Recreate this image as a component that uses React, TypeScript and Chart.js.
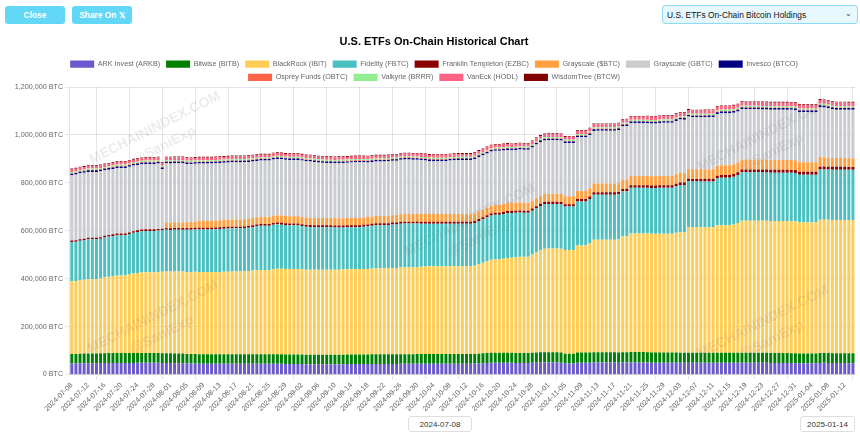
import React, { useEffect, useRef } from "react";
import { Chart, registerables } from "chart.js";

Chart.register(...registerables);

const FONT = '"Liberation Sans", Arial, Helvetica, sans-serif';
const CANVAS_TOP = 28;
const CANVAS_W = 860;
const CANVAS_H = 390;

const DATES = [
  "2024-07-08","2024-07-09","2024-07-10","2024-07-11","2024-07-12","2024-07-13","2024-07-14",
  "2024-07-15","2024-07-16","2024-07-17","2024-07-18","2024-07-19","2024-07-20","2024-07-21",
  "2024-07-22","2024-07-23","2024-07-24","2024-07-25","2024-07-26","2024-07-27","2024-07-28",
  "2024-07-29","2024-07-30","2024-07-31","2024-08-01","2024-08-02","2024-08-03","2024-08-04",
  "2024-08-05","2024-08-06","2024-08-07","2024-08-08","2024-08-09","2024-08-10","2024-08-11",
  "2024-08-12","2024-08-13","2024-08-14","2024-08-15","2024-08-16","2024-08-17","2024-08-18",
  "2024-08-19","2024-08-20","2024-08-21","2024-08-22","2024-08-23","2024-08-24","2024-08-25",
  "2024-08-26","2024-08-27","2024-08-28","2024-08-29","2024-08-30","2024-08-31","2024-09-01",
  "2024-09-02","2024-09-03","2024-09-04","2024-09-05","2024-09-06","2024-09-07","2024-09-08",
  "2024-09-09","2024-09-10","2024-09-11","2024-09-12","2024-09-13","2024-09-14","2024-09-15",
  "2024-09-16","2024-09-17","2024-09-18","2024-09-19","2024-09-20","2024-09-21","2024-09-22",
  "2024-09-23","2024-09-24","2024-09-25","2024-09-26","2024-09-27","2024-09-28","2024-09-29",
  "2024-09-30","2024-10-01","2024-10-02","2024-10-03","2024-10-04","2024-10-05","2024-10-06",
  "2024-10-07","2024-10-08","2024-10-09","2024-10-10","2024-10-11","2024-10-12","2024-10-13",
  "2024-10-14","2024-10-15","2024-10-16","2024-10-17","2024-10-18","2024-10-19","2024-10-20",
  "2024-10-21","2024-10-22","2024-10-23","2024-10-24","2024-10-25","2024-10-26","2024-10-27",
  "2024-10-28","2024-10-29","2024-10-30","2024-10-31","2024-11-01","2024-11-02","2024-11-03",
  "2024-11-04","2024-11-05","2024-11-06","2024-11-07","2024-11-08","2024-11-09","2024-11-10",
  "2024-11-11","2024-11-12","2024-11-13","2024-11-14","2024-11-15","2024-11-16","2024-11-17",
  "2024-11-18","2024-11-19","2024-11-20","2024-11-21","2024-11-22","2024-11-23","2024-11-24",
  "2024-11-25","2024-11-26","2024-11-27","2024-11-28","2024-11-29","2024-11-30","2024-12-01",
  "2024-12-02","2024-12-03","2024-12-04","2024-12-05","2024-12-06","2024-12-07","2024-12-08",
  "2024-12-09","2024-12-10","2024-12-11","2024-12-12","2024-12-13","2024-12-14","2024-12-15",
  "2024-12-16","2024-12-17","2024-12-18","2024-12-19","2024-12-20","2024-12-21","2024-12-22",
  "2024-12-23","2024-12-24","2024-12-25","2024-12-26","2024-12-27","2024-12-28","2024-12-29",
  "2024-12-30","2024-12-31","2025-01-01","2025-01-02","2025-01-03","2025-01-04","2025-01-05",
  "2025-01-06","2025-01-07","2025-01-08","2025-01-09","2025-01-10","2025-01-11","2025-01-12",
  "2025-01-13","2025-01-14",
];

// Holdings in thousands of BTC, one value per day (weekly rows, Mon..Sun)
const ARKB = [
  46,46,46.5,47,47,47,47, 47.5,48,48,48,48,48,48, 48,48,48.5,48.5,48.5,48.5,48.5,
  48.5,48,48,47.5,47,47,47, 46,45.5,45.5,45,45,45,45, 45,44.5,44.5,44.5,44.5,44.5,44.5,
  44.5,44.5,44.5,44.5,44.5,44.5,44.5, 45,45,44.5,44,44,44,44, 43.5,43,43,43,43,43,43,
  43,43,43,43,43.5,43.5,43.5, 43.5,43.5,44,44,44,44,44, 44,44,44,44.5,44.5,44.5,44.5,
  45,45,45,45,45,45,45, 45,45,45,45,45,45,45, 45.5,46,47,48,48.5,48.5,48.5,
  49,49,48.5,48,48,48,48, 48.5,49,50,50,50,50,50, 49,46,46,46,49,49,49,
  49.5,50,50,50,50,50,50, 49.5,50,50,50.5,50.5,50.5,50.5, 50,49.5,49.5,49.5,49.5,49.5,49.5,
  49,49,49,48.5,48.5,48.5,48.5, 48.5,48.5,48.5,48.5,48.5,48.5,48.5, 48.5,48.5,49,49,49,49,49,
  48.5,48.5,48,48,48,48,48, 47.5,47,46.5,46.5,46.5,46.5,46.5, 48,48.5,48,47.5,47.5,47.5,47.5,
  47,47,
];
const BITB = [
  40,40,40.5,40.5,41,41,41, 41,41,41.5,41.5,41.5,41.5,41.5, 41.5,41.5,41.5,41.5,41.5,41.5,41.5,
  41.5,41,41,41,40.5,40.5,40.5, 40,40,40,39.5,39.5,39.5,39.5, 39.5,39.5,39.5,39.5,39.5,39.5,39.5,
  39.5,39.5,39.5,39.5,40,40,40, 40,40,40,39.5,39.5,39.5,39.5, 39.5,39,39,39,39,39,39,
  39,39,39,39,39.5,39.5,39.5, 39.5,39.5,39.5,40,40,40,40, 40,40,40,40.5,40.5,40.5,40.5,
  40.5,40.5,40.5,40.5,40.5,40.5,40.5, 40.5,40.5,40.5,40.5,40.5,40.5,40.5, 40.5,41,41.5,42,42,42,42,
  42,42,42,42,42,42,42, 42,42.5,42.5,42.5,42.5,42.5,42.5, 42.5,41,41,41,42.5,42.5,42.5,
  42.5,42.5,42.5,42.5,42.5,42.5,42.5, 42.5,42.5,43,43,43,43,43, 43,42.5,42.5,42.5,42.5,42.5,42.5,
  42.5,42,42,42,42,42,42, 42,42,42,42,42,42,42, 42,42,42,42,42,42,42,
  42,42,41.5,41.5,41.5,41.5,41.5, 41.5,41.5,41.5,41.5,41.5,41.5,41.5, 41.5,41.5,41.5,41.5,41.5,41.5,41.5,
  41.5,41.5,
];
const IBIT = [
  303,304,306,308,310,310,310, 312,317,319,322,324,324,324, 328,332,334,336,337,337,337,
  338,340,341,341,342,342,342, 342,342,343,343,343,343,343, 343,344,345,345,346,346,346,
  347,348,350,352,352,352,352, 354,356,357,357,357,357,357, 356,355,355,355,355,355,355,
  355,355,355,356,356,356,356, 356,357,357,358,359,359,359, 360,361,361,362,363,363,363,
  363,364,365,366,366,366,366, 366,367,367,367,367,367,367, 368,374,378,383,388,390,390,
  392,395,397,399,401,401,401, 410,418,426,432,433,433,433, 433,433,433,433,447,447,447,
  455,470,470,470,470,470,470, 472,484,484,495,495,495,495, 495,495,495,495,495,495,495,
  500,504,504,525,525,525,525, 525,525,525,532,532,532,532, 536,542,551,551,551,551,551,
  551,551,551,551,551,551,551, 551,551,546,546,546,546,546, 556,556,556,556,556,556,556,
  556,556,
];
const FBTC = [
  164,164,165,165,166,166,166, 166,166,167,167,168,168,168, 169,170,171,172,172,172,172,
  173,173,174,174,175,175,175, 176,177,177,178,178,178,178, 179,179,179,180,180,180,180,
  180,181,182,183,184,184,184, 186,186,184,183,182,182,182, 181,180,179,178,178,178,178,
  178,177,177,176,176,176,176, 176,177,178,179,180,180,180, 180,181,181,182,182,182,182,
  182,180,179,178,178,178,178, 178,177,177,177,177,177,177, 178,180,181,183,185,186,186,
  187,188,187,186,185,184,184, 183,184,185,186,186,186,186, 186,181,181,181,184,184,184,
  186,188,188,188,188,188,188, 188,188,188,191,191,191,191, 191,191,191,192,192,192,192,
  194,196,196,191,190,190,190, 190,190,190,196,199,199,199, 199,200,202,202,202,202,202,
  202,202,202,202,202,202,202, 202,202,200,200,200,200,200, 210,210,210,210,210,210,210,
  210,210,
];
const EZBC = [
  6.4,6.4,6.5,6.5,6.5,6.5,6.5, 6.5,6.6,6.6,6.6,6.7,6.7,6.7, 6.7,6.8,6.8,6.8,6.8,6.8,6.8,
  6.8,6.8,6.9,6.9,6.9,6.9,6.9, 7,7,7,7.1,7.1,7.1,7.1, 7.1,7.2,7.2,7.2,7.2,7.2,7.2,
  7.2,7.3,7.3,7.3,7.3,7.3,7.3, 7.3,7.4,7.4,7.4,7.4,7.4,7.4, 7.4,7.4,7.5,7.5,7.5,7.5,7.5,
  7.5,7.5,7.6,7.6,7.6,7.6,7.6, 7.6,7.7,7.7,7.7,7.8,7.8,7.8, 7.8,7.9,7.9,8,8,8,8,
  8,8,8.1,8.1,8.1,8.1,8.1, 8.1,8.1,8.2,8.2,8.2,8.2,8.2, 8.2,8.3,8.4,8.5,8.6,8.6,8.6,
  8.7,8.8,8.8,8.9,8.9,8.9,8.9, 9,9.1,9.2,9.3,9.3,9.3,9.3, 9.3,9.3,9.4,9.5,9.6,9.6,9.6,
  9.7,9.8,9.9,10,10,10,10, 10.1,10.2,10.3,10.4,10.4,10.4,10.4, 10.5,10.5,10.6,10.6,10.6,10.6,10.6,
  10.7,10.8,10.9,11,11,11,11, 11.1,11.1,11.2,11.3,11.4,11.4,11.4, 11.5,11.6,11.7,11.7,11.7,11.7,11.7,
  11.7,11.8,11.8,11.8,11.8,11.8,11.8, 11.8,11.8,11.8,11.8,11.8,11.8,11.8, 11.9,11.9,12,12,12,12,12,
  12,12,
];
const GRAYSCALE_MINI = [
  0,0,0,0,0,0,0, 0,0,0,0,0,0,0, 0,0,0,0,0,0,0,
  0,0,24.5,24.5,24.5,24.5,24.5, 24.5,24.6,24.8,29,29,29,29, 29.2,29.4,29.5,29.5,29.6,29.6,29.6,
  29.8,30,30,30.1,30.1,30.1,30.1, 30.2,30.3,30.3,30.4,30.4,30.4,30.4, 30.4,30.4,30.5,30.5,30.5,30.5,30.5,
  30.6,30.6,30.7,30.7,30.8,30.8,30.8, 30.8,30.8,30.9,31,31,31,31, 31,31.2,31.4,31.6,31.8,31.8,31.8,
  32,32,32,32,32,32,32, 32,31.8,31.8,31.8,31.8,31.8,31.8, 31.8,31.9,32,32.2,32.4,32.4,32.4,
  32.5,32.6,32.6,32.7,32.8,32.8,32.8, 33,33.1,33.2,33.4,33.5,33.5,33.5, 33.6,33.6,33.6,33.6,34,34,34,
  35,36.5,37,37,37,37,37, 37.5,38.5,39,39,39,39,39, 39,39,39,39,39,39,39,
  39.2,39.4,39.6,40,40,40,40, 40,40.2,40.4,40.8,41,41,41, 41,41,41,41,41,41,41,
  41,41,41,41,41,41,41, 41,41,40.5,40.5,40.5,40.5,40.5, 40,39,38,37,36.5,36.5,36.5,
  36.5,36.5,
];
const GBTC = [
  272,274,275,275,275,275,275, 275,274,273,273,274,274,274, 274,274,273,273,273,273,273,
  273,249,246,246,246,246,246, 243,242,242,239,239,239,239, 239,239,239,239,239,239,239,
  238,237,236,235,235,235,235, 235,235,235,235,235,235,235, 235,235,235,234,232,231,230,
  230,230,230,230,230,231,232, 232,230,228,227,227,227,227, 227,227,227,228,228,228,227,
  226,225,224,222,221,221,221, 221,224,225,226,226,226,226, 227,227,227,226,226,226,226,
  224,222,220,220,221,221,221, 222,224,224,223,223,223,223, 223,222,222,222,224,224,224,
  222,220,220,220,220,220,220, 221,223,223,220,220,220,220, 220,220,220,221,222,222,222,
  223,223,222,219,217,217,217, 217,217,217,217,217,217,217, 215,213,211,210,210,210,210,
  210,210,210,210,210,210,210, 210,209,209,209,209,209,209, 209,208,206,203,202,202,202,
  202,202,
];
const BTCO = [
  6.5,6.5,6.5,6.5,6.5,6.5,6.5, 6.5,6.4,6.4,6.4,6.4,6.4,6.4, 6.4,6.4,6.4,6.4,6.4,6.4,6.4,
  6.4,6.3,6.3,6.3,6.3,6.3,6.3, 6.2,6.2,6.2,6.2,6.2,6.2,6.2, 6.2,6.2,6.2,6.2,6.2,6.2,6.2,
  6.1,6.1,6.1,6.1,6.1,6.1,6.1, 6.1,6.1,6.1,6.1,6.1,6.1,6.1, 6,6,6,6,6,6,6,
  6,6,6,6,6,6,6, 6,6,6,6,6,6,6, 6,6,6,6,6,6,6,
  6,6,6,6,6,6,6, 6,6,6,6,6,6,6, 6.1,6.1,6.1,6.1,6.1,6.1,6.1,
  6.2,6.2,6.2,6.2,6.2,6.2,6.2, 6.3,6.3,6.3,6.3,6.3,6.3,6.3, 6.3,6.3,6.3,6.3,6.3,6.3,6.3,
  6.5,6.5,6.5,6.5,6.5,6.5,6.5, 6.6,6.6,6.6,6.6,6.6,6.6,6.6, 6.6,6.6,6.6,6.6,6.6,6.6,6.6,
  6.7,6.7,6.7,6.7,6.7,6.7,6.7, 6.8,6.8,6.8,6.8,6.8,6.8,6.8, 6.9,6.9,6.9,6.9,6.9,6.9,6.9,
  6.9,6.9,6.9,6.9,6.9,6.9,6.9, 6.9,6.9,6.9,6.9,6.9,6.9,6.9, 7,7,7,7,7,7,7,
  7,7,
];
const OBTC = [
  2.5,2.5,2.5,2.5,2.5,2.5,2.5, 2.5,2.5,2.5,2.5,2.5,2.5,2.5, 2.5,2.5,2.5,2.5,2.5,2.5,2.5,
  2.5,2.5,2.5,2.5,2.5,2.5,2.5, 2.5,2.5,2.5,2.5,2.5,2.5,2.5, 2.5,2.5,2.5,2.5,2.5,2.5,2.5,
  2.5,2.5,2.5,2.5,2.5,2.5,2.5, 2.5,2.5,2.5,2.5,2.5,2.5,2.5, 2.5,2.5,2.5,2.5,2.5,2.5,2.5,
  2.5,2.5,2.5,2.5,2.5,2.5,2.5, 2.5,2.5,2.5,2.5,2.5,2.5,2.5, 2.5,2.5,2.5,2.5,2.5,2.5,2.5,
  2.5,2.5,2.5,2.5,2.5,2.5,2.5, 2.5,2.5,2.5,2.5,2.5,2.5,2.5, 2.4,2.4,2.4,2.4,2.4,2.4,2.4,
  2.4,2.4,2.4,2.4,2.4,2.4,2.4, 2.4,2.4,2.4,2.4,2.4,2.4,2.4, 2.4,2.4,2.4,2.4,2.4,2.4,2.4,
  2.4,2.4,2.4,2.4,2.4,2.4,2.4, 2.4,2.4,2.4,2.4,2.4,2.4,2.4, 2.4,2.4,2.4,2.4,2.4,2.4,2.4,
  2.4,2.4,2.4,2.4,2.4,2.4,2.4, 2.4,2.4,2.4,2.4,2.4,2.4,2.4, 2.4,2.4,2.4,2.4,2.4,2.4,2.4,
  2.4,2.4,2.4,2.4,2.4,2.4,2.4, 2.4,2.4,2.4,2.4,2.4,2.4,2.4, 2.4,2.4,2.4,2.4,2.4,2.4,2.4,
  2.4,2.4,
];
const BRRR = [
  5.1,5.1,5.1,5.1,5.1,5.1,5.1, 5.1,5.1,5.1,5.1,5.1,5.1,5.1, 5.1,5.1,5.1,5.1,5.1,5.1,5.1,
  5.1,5.1,5.1,5.1,5.1,5.1,5.1, 5.1,5.1,5.1,5.1,5.1,5.1,5.1, 5.1,5.1,5.1,5.1,5.1,5.1,5.1,
  5.1,5.1,5.1,5.1,5.1,5.1,5.1, 5.1,5.1,5.1,5.1,5.1,5.1,5.1, 5.2,5.2,5.2,5.2,5.2,5.2,5.2,
  5.2,5.2,5.2,5.2,5.2,5.2,5.2, 5.2,5.2,5.2,5.2,5.2,5.2,5.2, 5.2,5.2,5.2,5.2,5.2,5.2,5.2,
  5.2,5.2,5.2,5.2,5.2,5.2,5.2, 5.2,5.2,5.2,5.2,5.2,5.2,5.2, 5.2,5.2,5.2,5.2,5.2,5.2,5.2,
  5.2,5.2,5.2,5.2,5.2,5.2,5.2, 5.4,5.4,5.4,5.4,5.4,5.4,5.4, 5.4,5.4,5.4,5.4,5.4,5.4,5.4,
  5.4,5.4,5.4,5.4,5.4,5.4,5.4, 5.4,5.4,5.4,5.4,5.4,5.4,5.4, 5.6,5.6,5.6,5.6,5.6,5.6,5.6,
  5.6,5.6,5.6,5.6,5.6,5.6,5.6, 5.6,5.6,5.6,5.6,5.6,5.6,5.6, 5.6,5.6,5.6,5.6,5.6,5.6,5.6,
  5.6,5.6,5.6,5.6,5.6,5.6,5.6, 5.6,5.6,5.6,5.6,5.6,5.6,5.6, 5.6,5.6,5.6,5.6,5.6,5.6,5.6,
  5.6,5.6,
];
const HODL = [
  10.5,10.5,10.5,10.5,10.5,10.5,10.5, 10.5,10.5,10.5,10.5,10.5,10.5,10.5, 10.5,10.5,10.5,10.5,10.5,10.5,10.5,
  10.5,10.5,10.5,10.5,10.5,10.5,10.5, 10.8,10.8,10.8,10.8,10.8,10.8,10.8, 10.8,10.8,10.8,10.8,10.8,10.8,10.8,
  10.8,10.8,10.8,10.8,10.8,10.8,10.8, 10.8,10.8,10.8,10.8,10.8,10.8,10.8, 11,11,11,11,11,11,11,
  11,11,11,11,11,11,11, 11,11,11,11,11,11,11, 11,11,11,11,11,11,11,
  11.3,11.3,11.3,11.3,11.3,11.3,11.3, 11.3,11.3,11.3,11.3,11.3,11.3,11.3, 11.3,11.3,11.3,11.3,11.3,11.3,11.3,
  11.3,11.3,11.3,11.3,11.3,11.3,11.3, 11.8,11.8,11.8,11.8,11.8,11.8,11.8, 11.8,11.8,11.8,11.8,11.8,11.8,11.8,
  12.5,12.5,12.5,12.5,12.5,12.5,12.5, 12.5,12.5,12.5,12.5,12.5,12.5,12.5, 13.3,13.3,13.3,13.3,13.3,13.3,13.3,
  13.3,13.3,13.3,13.3,13.3,13.3,13.3, 14,14,14,14,14,14,14, 14,14,14,14,14,14,14,
  14.5,14.5,14.5,14.5,14.5,14.5,14.5, 14.5,14.5,14.5,14.5,14.5,14.5,14.5, 14.5,14.5,14.5,14.5,14.5,14.5,14.5,
  14.5,14.5,
];
const BTCW = [
  3.5,3.5,3.5,3.5,3.5,3.5,3.5, 3.5,3.5,3.5,3.5,3.5,3.5,3.5, 3.5,3.5,3.5,3.5,3.5,3.5,3.5,
  3.5,3.5,3.5,3.5,3.5,3.5,3.5, 3.5,3.5,3.5,3.5,3.5,3.5,3.5, 3.5,3.5,3.5,3.5,3.5,3.5,3.5,
  3.5,3.5,3.5,3.5,3.5,3.5,3.5, 3.5,3.5,3.5,3.5,3.5,3.5,3.5, 3.5,3.5,3.5,3.5,3.5,3.5,3.5,
  3.5,3.5,3.5,3.5,3.5,3.5,3.5, 3.5,3.5,3.5,3.5,3.5,3.5,3.5, 3.5,3.5,3.5,3.5,3.5,3.5,3.5,
  3.5,3.5,3.5,3.5,3.5,3.5,3.5, 3.5,3.5,3.5,3.5,3.5,3.5,3.5, 3.6,3.6,3.6,3.6,3.6,3.6,3.6,
  3.6,3.6,3.6,3.6,3.6,3.6,3.6, 3.6,3.6,3.6,3.6,3.6,3.6,3.6, 3.6,3.6,3.6,3.6,3.6,3.6,3.6,
  3.6,3.6,3.6,3.6,3.6,3.6,3.6, 3.6,3.6,3.6,3.6,3.6,3.6,3.6, 3.6,3.6,3.6,3.6,3.6,3.6,3.6,
  3.6,3.6,3.6,3.6,3.6,3.6,3.6, 3.6,3.6,3.6,3.6,3.6,3.6,3.6, 3.6,3.6,3.6,3.6,3.6,3.6,3.6,
  3.6,3.6,3.6,3.6,3.6,3.6,3.6, 3.6,3.6,3.6,3.6,3.6,3.6,3.6, 3.6,3.6,3.6,3.6,3.6,3.6,3.6,
  3.6,3.6,
];

const Y_TICKS = [0, 200000, 400000, 600000, 800000, 1000000, 1200000];

const SERIES = [
  { label: "ARK Invest (ARKB)", values: ARKB, color: "#6A5ACD" },
  { label: "Bitwise (BITB)", values: BITB, color: "#008000" },
  { label: "BlackRock (IBIT)", values: IBIT, color: "rgb(255, 205, 86)" },
  { label: "Fidelity (FBTC)", values: FBTC, color: "rgb(75, 192, 192)" },
  { label: "Franklin Templeton (EZBC)", values: EZBC, color: "#8B0000" },
  { label: "Grayscale ($BTC)", values: GRAYSCALE_MINI, color: "rgb(255, 159, 64)" },
  { label: "Grayscale (GBTC)", values: GBTC, color: "rgb(201, 203, 207)" },
  { label: "Invesco (BTCO)", values: BTCO, color: "#000080" },
  { label: "Osprey Funds (OBTC)", values: OBTC, color: "#FF6347" },
  { label: "Valkyrie (BRRR)", values: BRRR, color: "#90EE90" },
  { label: "VanEck (HODL)", values: HODL, color: "rgb(255, 99, 132)" },
  { label: "WisdomTree (BTCW)", values: BTCW, color: "#800000" },
];

// watermark anchor points (page coordinates)
const MARKS = [
  [155, 128],
  [153, 317],
  [470, 220],
  [763, 135],
  [763, 322],
];

const watermarkPlugin = {
  id: "watermark",
  afterDatasetsDraw(chart: any) {
    const ctx = chart.ctx;
    ctx.save();
    ctx.fillStyle = "rgba(110,110,110,0.13)";
    ctx.textAlign = "center";
    ctx.textBaseline = "middle";
    for (const [x, y] of MARKS) {
      ctx.save();
      ctx.translate(x, y - CANVAS_TOP);
      ctx.rotate(-0.47);
      ctx.font = `bold 14px ${FONT}`;
      ctx.fillText("MECHAININDEX.COM", 0, 0);
      ctx.fillText("@SaniExp", 0, 20);
      ctx.restore();
    }
    ctx.restore();
  },
};

// trims the space under the legend so the plot starts where the reference's does
const legendTrimPlugin = {
  id: "legendTrim",
  beforeInit(chart: any) {
    const legend = chart.legend;
    if (!legend) return;
    const origFit = legend.fit;
    legend.fit = function () {
      origFit.call(this);
      this.height -= 4;
    };
  },
};

const btn = (left: number): React.CSSProperties => ({
  position: "absolute",
  left,
  top: 6,
  width: 60,
  height: 18,
  background: "#62d7f6",
  color: "#fff",
  borderRadius: 3,
  fontSize: 8.4,
  fontWeight: "bold",
  display: "flex",
  alignItems: "center",
  justifyContent: "center",
});

const dateBox = (left: number, width: number): React.CSSProperties => ({
  position: "absolute",
  left,
  top: 416,
  width,
  height: 16,
  boxSizing: "border-box",
  border: "1px solid #dedede",
  borderRadius: 3,
  background: "#fff",
  color: "#333",
  fontSize: 8,
  display: "flex",
  alignItems: "center",
  justifyContent: "center",
});

export default function App() {
  const ref = useRef<HTMLCanvasElement>(null);

  useEffect(() => {
    if (!ref.current) return;
    const chart = new Chart(ref.current, {
      type: "bar",
      data: {
        labels: DATES,
        datasets: SERIES.map((s) => ({
          label: s.label,
          data: s.values.map((v) => v * 1000),
          backgroundColor: s.color,
          borderColor: s.color,
          borderWidth: 0,
        })),
      },
      plugins: [legendTrimPlugin, watermarkPlugin],
      options: {
        responsive: false,
        animation: false,
        events: [],
        layout: { padding: { left: 13, right: 5, top: 0, bottom: 3 } },
        plugins: {
          tooltip: { enabled: false },
          title: {
            display: true,
            text: "U.S. ETFs On-Chain Historical Chart",
            color: "#000",
            font: { family: FONT, size: 11, weight: "bold" },
            padding: { top: 7.4, bottom: 6 },
          },
          legend: {
            display: true,
            labels: {
              boxWidth: 24,
              boxHeight: 7.2,
              padding: 6,
              color: "#666",
              font: { family: FONT, size: 7.2 },
            },
          },
        },
        scales: {
          x: {
            stacked: true,
            grid: { color: "rgba(0,0,0,0.1)", tickLength: 4.8 },
            ticks: {
              color: "#666",
              font: { family: FONT, size: 7.2 },
              minRotation: 45,
              maxRotation: 45,
              autoSkip: true,
              autoSkipPadding: 1,
              maxTicksLimit: 48,
              padding: 1.8,
            },
          },
          y: {
            stacked: true,
            min: 0,
            max: Y_TICKS[Y_TICKS.length - 1],
            afterBuildTicks: (axis: any) => {
              axis.ticks = Y_TICKS.map((v) => ({ value: v }));
            },
            grid: { color: "rgba(0,0,0,0.1)", tickLength: 4.8 },
            ticks: {
              color: "#666",
              font: { family: FONT, size: 7.2 },
              padding: 1.8,
              callback: (v: any) => Number(v).toLocaleString("en-US") + " BTC",
            },
          },
        },
      },
    } as any);
    return () => chart.destroy();
  }, []);

  return (
    <div
      style={{
        position: "fixed",
        left: 0,
        top: 0,
        width: 860,
        height: 435,
        background: "#fff",
        fontFamily: FONT,
        overflow: "hidden",
      }}
    >
      <div style={btn(5)}>Close</div>
      <div style={btn(72)}>Share On 𝕏</div>
      <div
        style={{
          position: "absolute",
          left: 662,
          top: 5,
          width: 196,
          height: 19,
          boxSizing: "border-box",
          background: "#e6f7fd",
          border: "1px solid #8ddcf4",
          borderRadius: 3,
          fontSize: 8.4,
          color: "#111",
          display: "flex",
          alignItems: "center",
          paddingLeft: 4,
        }}
      >
        U.S. ETFs On-Chain Bitcoin Holdings
        <span style={{ position: "absolute", right: 5, top: 3, fontSize: 8, color: "#444" }}>⌄</span>
      </div>
      <canvas
        ref={ref}
        width={CANVAS_W}
        height={CANVAS_H}
        style={{ position: "absolute", left: 0, top: CANVAS_TOP, width: CANVAS_W, height: CANVAS_H }}
      />
      <div style={dateBox(408, 64)}>2024-07-08</div>
      <div style={dateBox(800, 55)}>2025-01-14</div>
    </div>
  );
}
